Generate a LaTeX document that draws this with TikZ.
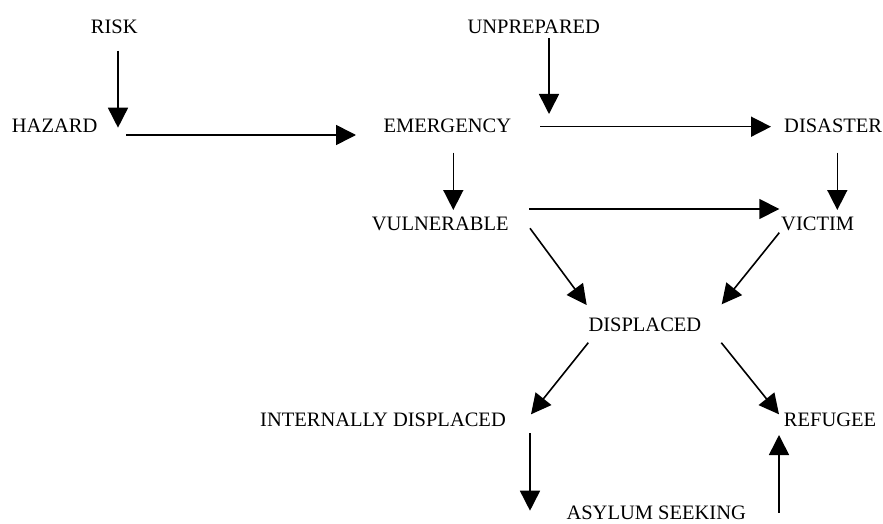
\documentclass[tikz,border=0pt]{standalone}
\usepackage{fontspec}
\setmainfont{Liberation Serif}
\usetikzlibrary{arrows.meta}
\begin{document}
\begin{tikzpicture}[x=1pt,y=-1pt,
  lbl/.style={inner sep=0pt,anchor=base west,font=\fontsize{20.5}{24}\selectfont},
  arr/.style={line width=1.6pt,-{Triangle[length=20pt,width=20pt]}}]
\useasboundingbox (0,0) rectangle (883,524);
% labels
\node[lbl] (risk) at (90.7,34) {RISK};
\node[lbl] (unprep) at (467.3,34) {UNPREPARED};
\node[lbl] (hazard) at (11.7,132.7) {HAZARD};
\node[lbl] (emerg) at (383.3,132.7) {EMERGENCY};
\node[lbl] (disaster) at (784,132.7) {DISASTER};
\node[lbl] (vuln) at (371.7,230) {VULNERABLE};
\node[lbl] (victim) at (781,230) {VICTIM};
\node[lbl] (displ) at (588.3,331.7) {DISPLACED};
\node[lbl] (idp) at (260,426) {INTERNALLY DISPLACED};
\node[lbl] (refugee) at (783.7,426) {REFUGEE};
\node[lbl] (asylum) at (566.3,519.5) {ASYLUM SEEKING};
% connector ends
\coordinate (a1s) at (118,50.7);   \coordinate (a1e) at (118,127.7);
\coordinate (a2s) at (126,135);    \coordinate (a2e) at (356,135);
\coordinate (a3s) at (549,38.3);   \coordinate (a3e) at (549,114);
\coordinate (a4s) at (540,126.7);  \coordinate (a4e) at (771,126.7);
\coordinate (a5s) at (453.3,152.7);\coordinate (a5e) at (453.3,210);
\coordinate (a6s) at (837.3,152.7);\coordinate (a6e) at (837.3,210);
\coordinate (a7s) at (529,209);    \coordinate (a7e) at (779.3,209);
\coordinate (a8s) at (530,228.3);  \coordinate (a8e) at (586.7,305);
\coordinate (a9s) at (779.3,232.7);\coordinate (a9e) at (721.7,304.3);
\coordinate (a10s) at (588.3,342.7);\coordinate (a10e) at (531,414.3);
\coordinate (a11s) at (721.3,342.7);\coordinate (a11e) at (779,414.3);
\coordinate (a12s) at (530,433.3); \coordinate (a12e) at (530,510.7);
\coordinate (a13s) at (779,512.7); \coordinate (a13e) at (779,435);
% connectors
\draw[arr] (a1s) -- (a1e);
\draw[arr] (a2s) -- (a2e);
\draw[arr] (a3s) -- (a3e);
\draw[arr] (a4s) -- (a4e);
\draw[arr] (a5s) -- (a5e);
\draw[arr] (a6s) -- (a6e);
\draw[arr] (a7s) -- (a7e);
\draw[arr] (a8s) -- (a8e);
\draw[arr] (a9s) -- (a9e);
\draw[arr] (a10s) -- (a10e);
\draw[arr] (a11s) -- (a11e);
\draw[arr] (a12s) -- (a12e);
\draw[arr] (a13s) -- (a13e);
\end{tikzpicture}
\end{document}
